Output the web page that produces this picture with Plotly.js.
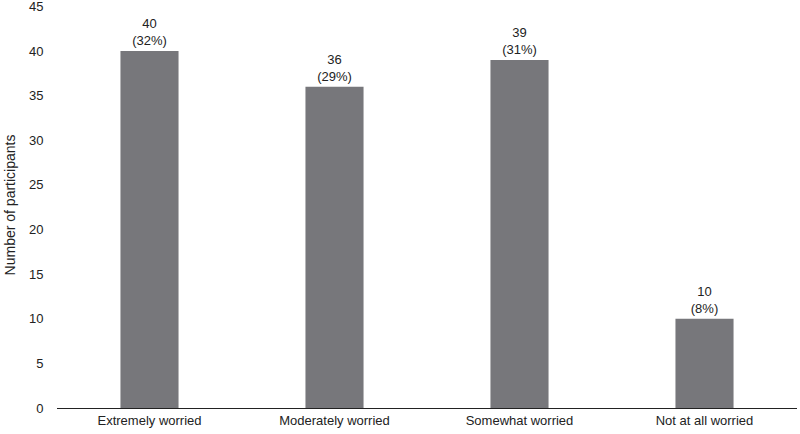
<!DOCTYPE html>
<html>
<head>
<meta charset="utf-8">
<script src="https://cdn.plot.ly/plotly-3.0.1.min.js"></script>
<style>html,body{margin:0;padding:0;background:#fff;}#chart{width:800px;height:434px;}</style>
</head>
<body>
<div id="chart"></div>
<script>
const categories = ["Extremely worried", "Moderately worried", "Somewhat worried", "Not at all worried"];
const counts = [40, 36, 39, 10];
const percents = ["32%", "29%", "31%", "8%"];
const yTicks = [0, 5, 10, 15, 20, 25, 30, 35, 40, 45];

const labels = counts.map((c, i) => c + "<br>(" + percents[i] + ")");

const trace = {
  type: "bar",
  x: categories,
  y: counts,
  text: labels,
  textposition: "outside",
  cliponaxis: false,
  textfont: {family: "Liberation Sans, Arial, sans-serif", size: 13, color: "#222"},
  marker: {color: "#77777b", line: {width: 0}},
  hoverinfo: "none"
};

const layout = {
  width: 800,
  height: 434,
  margin: {l: 57, r: 3, t: 2, b: 26},
  paper_bgcolor: "#fff",
  plot_bgcolor: "#fff",
  bargap: 0.686,
  showlegend: false,
  font: {family: "Liberation Sans, Arial, sans-serif", size: 13, color: "#222"},
  xaxis: {
    showline: true,
    linecolor: "#222",
    linewidth: 1,
    ticks: "",
    showgrid: false,
    tickfont: {size: 13, color: "#222"}
  },
  yaxis: {
    range: [0, 45.5],
    tickvals: yTicks,
    ticktext: yTicks.map(String),
    ticklabeloverflow: "allow",
    showgrid: false,
    zeroline: false,
    showline: false,
    ticks: "outside",
    ticklen: 10,
    tickcolor: "rgba(0,0,0,0)",
    tickfont: {size: 13, color: "#222"},
    title: {text: "Number of participants", font: {size: 14, color: "#222"}, standoff: 10}
  }
};

Plotly.newPlot("chart", [trace], layout, {displayModeBar: false, staticPlot: true});
</script>
</body>
</html>
